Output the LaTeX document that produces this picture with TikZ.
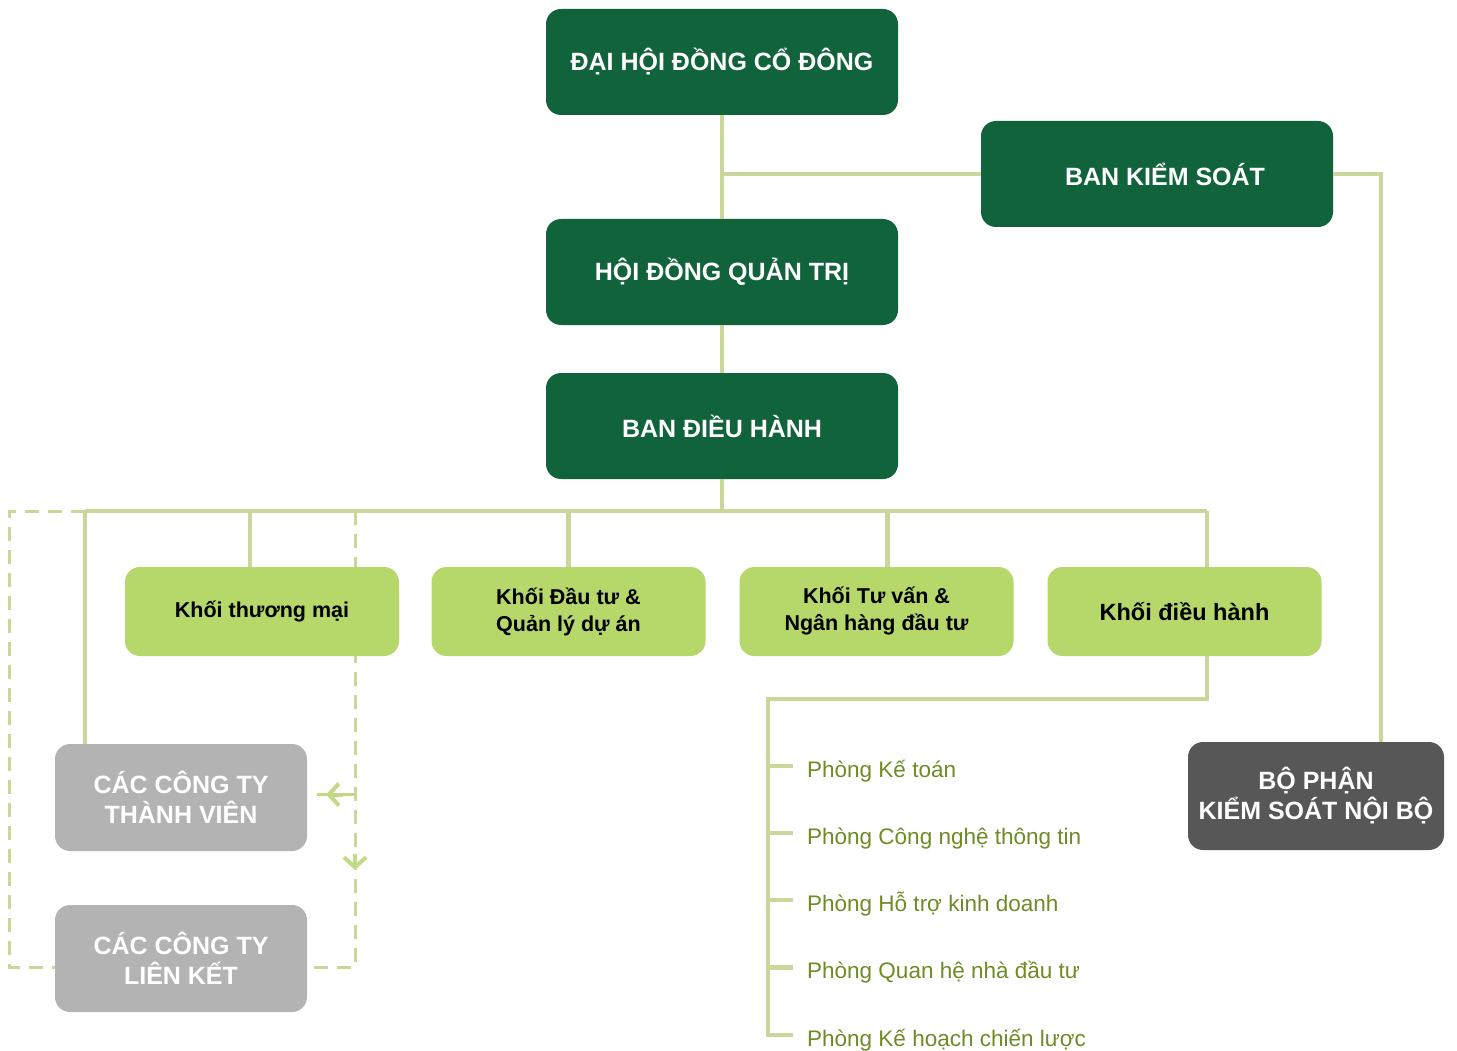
\documentclass[tikz,border=0pt]{standalone}
\usepackage{fontspec}
\setmainfont{Liberation Sans}
\usetikzlibrary{arrows.meta}
\definecolor{dkgreen}{HTML}{10633A}
\definecolor{ltgreen}{HTML}{B6D76A}
\definecolor{linegreen}{HTML}{C9D89A}
\definecolor{arrgreen}{HTML}{C2DA86}
\definecolor{greybox}{HTML}{B3B3B3}
\definecolor{darkgrey}{HTML}{575757}
\definecolor{depttext}{HTML}{6E8B25}
\begin{document}
\begin{tikzpicture}[x=1pt,y=-1pt,
  boxbase/.style={rounded corners=15pt, inner sep=0pt, align=center, font=\bfseries\fontsize{25}{30}\selectfont},
  topbox/.style={boxbase, fill=dkgreen, text=white, minimum width=352pt, minimum height=106pt},
  khoi/.style={boxbase, fill=ltgreen, text=black, minimum width=274pt, minimum height=89pt, font=\bfseries\fontsize{21.5}{27}\selectfont},
  greyb/.style={boxbase, fill=greybox, text=white, minimum width=252pt, minimum height=107pt},
  ksnbbox/.style={boxbase, fill=darkgrey, text=white, minimum width=256pt, minimum height=108pt},
  conn/.style={draw=linegreen, line width=4.5pt},
  dsh/.style={draw=linegreen, line width=3pt, dash pattern=on 14pt off 9pt},
  arrline/.style={draw=arrgreen, line width=4pt, -{Straight Barb[length=10pt,width=22pt]}},
  dept/.style={anchor=base west, inner sep=0pt, text=depttext, font=\fontsize{22.5}{26}\selectfont},
]
\useasboundingbox (0,0) rectangle (1457,1051);

% coordinates
\coordinate (busL) at (85,511);
\coordinate (busR) at (1207,511);
\coordinate (dR) at (355,511);
\coordinate (spineTop) at (768,699);
\coordinate (spineBot) at (768,1035);
\coordinate (ksnbIn) at (1381,742);
\coordinate (vA) at (355,870);

% dashed lines (behind boxes)
\draw[dsh] (busL) -- ++(-76,0) |- (55,967) coordinate (lkW);
\draw[dsh] (dR) |- (307,967) coordinate (lkE);

% boxes
\node[topbox] (dhdcd) at (722,62) {ĐẠI HỘI ĐỒNG CỔ ĐÔNG};
\node[topbox] (bks) at (1157,174) {\hspace*{16pt}BAN KIỂM SOÁT};
\node[topbox] (hdqt) at (722,272) {HỘI ĐỒNG QUẢN TRỊ};
\node[topbox] (bdh) at (722,426) {BAN ĐIỀU HÀNH};

\node[khoi] (ktm) at (262,611.5) {Khối thương mại};
\node[khoi] (kdt) at (568.5,611.5) {Khối Đầu tư \&\\Quản lý dự án};
\node[khoi] (ktv) at (876.5,611.5) {Khối Tư vấn \&\\Ngân hàng đầu tư};
\node[khoi, font=\bfseries\fontsize{23.5}{28}\selectfont] (kdh) at (1184.5,611.5) {Khối điều hành};

\node[greyb] (tv) at (181,797.5) {CÁC CÔNG TY\\THÀNH VIÊN};
\node[greyb] (lk) at (181,958.5) {CÁC CÔNG TY\\LIÊN KẾT};
\node[ksnbbox] (ksnb) at (1316,796) {BỘ PHẬN\\KIỂM SOÁT NỘI BỘ};

% connectors
\draw[conn] (dhdcd.south) -- (hdqt.north);
\draw[conn] (bks.west) -- (bks.west -| dhdcd.south);
\draw[conn] (bks.east) -| (ksnbIn);
\draw[conn] (hdqt.south) -- (bdh.north);
\draw[conn] (bdh.south) -- (bdh.south |- busL);
\draw[conn, line cap=square] (busL) -- (busR);
\draw[conn] ([xshift=-12pt]ktm.north) -- ([xshift=-12pt]ktm.north |- busL);
\draw[conn] (kdt.north) -- (kdt.north |- busL);
\draw[conn] ([xshift=11pt]ktv.north) -- ([xshift=11pt]ktv.north |- busL);
\draw[conn] ([xshift=22.5pt]kdh.north) -- (busR);
\draw[conn] (busL) -- (busL |- tv.north);
\draw[conn, line join=miter] ([xshift=22.5pt]kdh.south) |- (spineTop) -- (spineBot);

% arrows on dashed lines
\draw[draw=arrgreen, line width=3.5pt, dash pattern=on 13pt off 7pt on 40pt] ([yshift=3pt]tv.east -| dR) -- ([xshift=10pt,yshift=3pt]tv.east);
\draw[arrline] ([xshift=36pt,yshift=3pt]tv.east) -- ([xshift=19pt,yshift=3pt]tv.east);
\draw[arrline] ([yshift=16pt]vA) -- (vA);

% departments
\foreach \i/\yy/\txt in {1/766/Phòng Kế toán, 2/833/Phòng Công nghệ thông tin, 3/900/Phòng Hỗ trợ kinh doanh, 4/967.5/Phòng Quan hệ nhà đầu tư, 5/1035/Phòng Kế hoạch chiến lược}{
  \coordinate (t\i) at (768,\yy);
  \node[dept] (d\i) at (807,\yy+11) {\txt};
  \draw[conn] ([xshift=-2.25pt]t\i) -- ++(27.25,0);
}
\end{tikzpicture}
\end{document}
